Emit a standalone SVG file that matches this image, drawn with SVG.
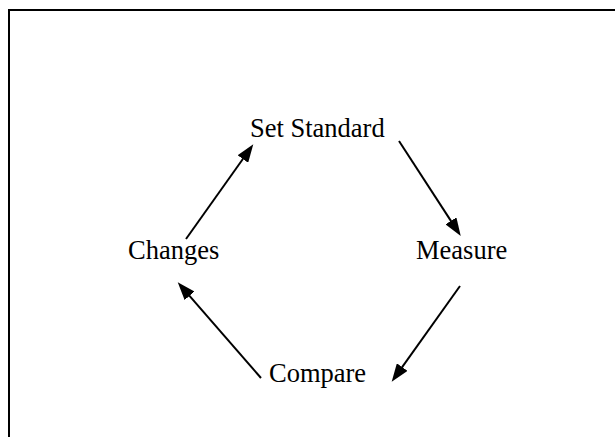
<svg xmlns="http://www.w3.org/2000/svg" width="615" height="437" viewBox="0 0 615 437">
<defs>
<style>
.lbl{font-family:"Liberation Serif","Times New Roman",serif;font-size:26.5px;fill:#000}
.con{stroke:#000;stroke-width:2;fill:none}
</style>
<marker id="ah" viewBox="0 0 18 13" refX="8" refY="6.5" markerWidth="18" markerHeight="13" markerUnits="userSpaceOnUse" orient="auto">
<path d="M0,0 L18,6.5 L0,13 Z" fill="#000"/>
</marker>
</defs>
<rect x="0" y="0" width="615" height="437" fill="#fff"/>
<rect x="9" y="10" width="620" height="440" fill="none" stroke="#000" stroke-width="2"/>
<g id="connectors">
<line class="con" x1="399" y1="141" x2="455.3" y2="227.6" marker-end="url(#ah)"/>
<line class="con" x1="460" y1="286" x2="397.5" y2="373.6" marker-end="url(#ah)"/>
<line class="con" x1="261" y1="378" x2="184.3" y2="289.8" marker-end="url(#ah)"/>
<line class="con" x1="186" y1="239" x2="247.5" y2="152.5" marker-end="url(#ah)"/>
</g>
<g id="set-standard"><text class="lbl" x="250" y="137">Set Standard</text></g>
<g id="measure"><text class="lbl" x="416" y="259">Measure</text></g>
<g id="compare"><text class="lbl" x="269" y="382">Compare</text></g>
<g id="changes"><text class="lbl" x="128" y="259">Changes</text></g>
</svg>
